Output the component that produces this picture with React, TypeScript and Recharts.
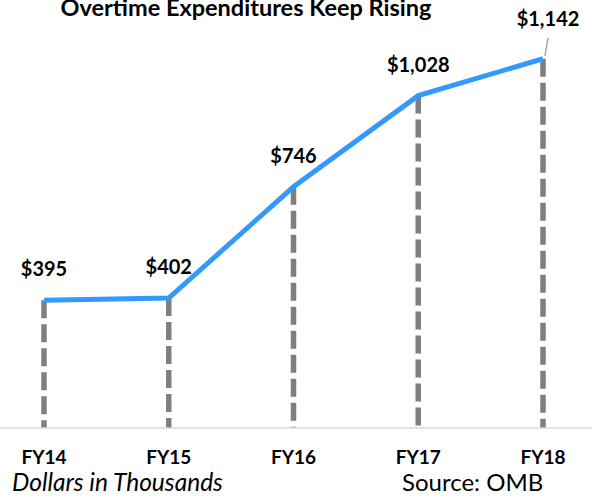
import React from 'react';
import { LineChart, Line, XAxis, YAxis, ReferenceLine, LabelList } from 'recharts';

const categories = ['FY14', 'FY15', 'FY16', 'FY17', 'FY18'];
const expenditures = [395, 402, 746, 1028, 1142];
const titleText = 'Overtime Expenditures Keep Rising';
const unitNote = 'Dollars in Thousands';
const sourceNote = 'Source: OMB';

const data = categories.map((c, i) => ({ year: c, value: expenditures[i] }));

const FONT = 'Lato, "Open Sans", sans-serif';

const fmt = (v: number) => '$' + v.toLocaleString('en-US');

const renderLabel = (props: any) => {
  const { x, y, value, index } = props;
  if (index === data.length - 1) {
    return (
      <g>
        <line x1={x + 5} y1={y - 21} x2={x + 2} y2={y - 3} stroke="#a6a6a6" strokeWidth={1.5} />
        <text x={x + 5} y={y - 33} textAnchor="middle" fontFamily={FONT} fontWeight={700} fontSize={20} fill="#000">
          {fmt(value)}
        </text>
      </g>
    );
  }
  return (
    <text x={x} y={y - 24} textAnchor="middle" fontFamily={FONT} fontWeight={700} fontSize={20} fill="#000">
      {fmt(value)}
    </text>
  );
};

export default function App() {
  return (
    <div style={{ position: 'absolute', left: 0, top: 0, width: 592, height: 502, background: '#fff' }}>
      <LineChart width={592} height={502} data={data} margin={{ top: 40, right: 0, bottom: 0, left: 0 }}>
        <YAxis hide domain={[0, 1200]} />
        <XAxis
          dataKey="year"
          height={74}
          padding={{ left: 44, right: 49 }}
          axisLine={{ stroke: '#d9d9d9', strokeWidth: 1.5 }}
          tickLine={false}
          tickMargin={17}
          tick={{ fontFamily: FONT, fontWeight: 700, fontSize: 19, fill: '#000' }}
        />
        {data.map((d) => (
          <ReferenceLine
            key={d.year}
            segment={[{ x: d.year, y: d.value }, { x: d.year, y: 0 }]}
            stroke="#7f7f7f"
            strokeWidth={5.5}
            strokeDasharray="18 6"
          />
        ))}
        <Line
          dataKey="value"
          stroke="#3399ff"
          strokeWidth={5}
          dot={false}
          isAnimationActive={false}
        >
          <LabelList dataKey="value" content={renderLabel} />
        </Line>
      </LineChart>
      <svg width={592} height={502} style={{ position: 'absolute', left: 0, top: 0, pointerEvents: 'none' }}>
        <text x={246} y={16} textAnchor="middle" fontFamily={FONT} fontWeight={700} fontSize={23.5} fill="#000">
          {titleText}
        </text>
        <text x={12} y={491} fontFamily={FONT} fontStyle="italic" fontSize={24.5} fill="#000">
          {unitNote}
        </text>
        <text x={402} y={491} fontFamily={FONT} fontSize={24} fill="#000">
          {sourceNote}
        </text>
      </svg>
    </div>
  );
}
